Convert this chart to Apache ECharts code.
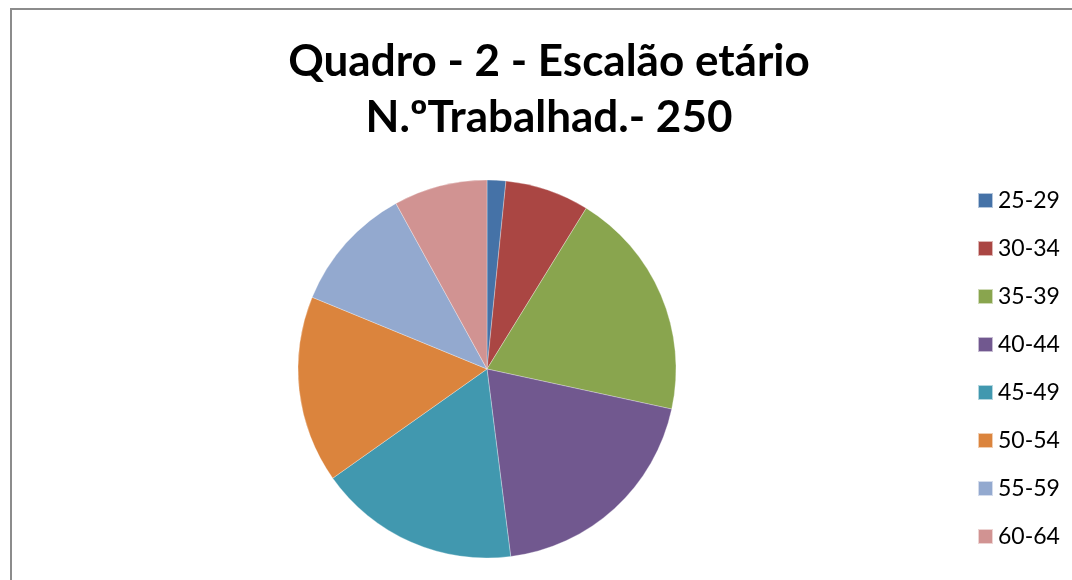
<!DOCTYPE html>
<html>
<head>
<meta charset="utf-8">
<script src="https://cdn.jsdelivr.net/npm/echarts@6/dist/echarts.min.js"></script>
<style>
  html, body { margin: 0; padding: 0; background: #fff; }
  #main { width: 1072px; height: 580px; }
</style>
</head>
<body>
<div id="main"></div>
<script>
// faixas etárias e número de trabalhadores (total 250)
const escaloes = ['25-29', '30-34', '35-39', '40-44', '45-49', '50-54', '55-59', '60-64']
const trabalhadores = [4, 18, 49, 49, 43, 40, 27, 20]
const cores = ['#4572A7', '#AA4643', '#89A54E', '#71588F', '#4198AF', '#DB843D', '#93A9CF', '#D19392']

const myChart = echarts.init(document.getElementById('main'))

myChart.setOption({
    animation: false,
    title: {
        text: 'Quadro - 2 - Escalão etário\nN.ºTrabalhad.- 250',
        left: 544,
        top: 29,
        textAlign: 'center',
        textStyle: {
            fontFamily: 'Lato',
            fontWeight: 'bold',
            fontSize: 44,
            lineHeight: 56,
            color: '#000'
        }
    },
    legend: {
        orient: 'vertical',
        left: 977,
        top: 189,
        padding: 0,
        itemWidth: 15,
        itemHeight: 15,
        itemGap: 25,
        icon: 'rect',
        textStyle: {
            fontFamily: 'Lato',
            fontSize: 23,
            color: '#000'
        },
        data: escaloes
    },
    graphic: [{
        type: 'rect',
        shape: { x: 11, y: 9, width: 1100, height: 600 },
        style: { fill: 'none', stroke: '#8c8c8c', lineWidth: 2 },
        silent: true
    }],
    series: [{
        type: 'pie',
        center: [487, 369],
        radius: 189,
        startAngle: 90,
        clockwise: true,
        label: { show: false },
        labelLine: { show: false },
        itemStyle: { borderColor: 'rgba(255,255,255,0.6)', borderWidth: 0.5 },
        emphasis: { disabled: true },
        data: escaloes.map((e, i) => ({
            name: e,
            value: trabalhadores[i],
            itemStyle: { color: cores[i] }
        }))
    }]
})
</script>
</body>
</html>
